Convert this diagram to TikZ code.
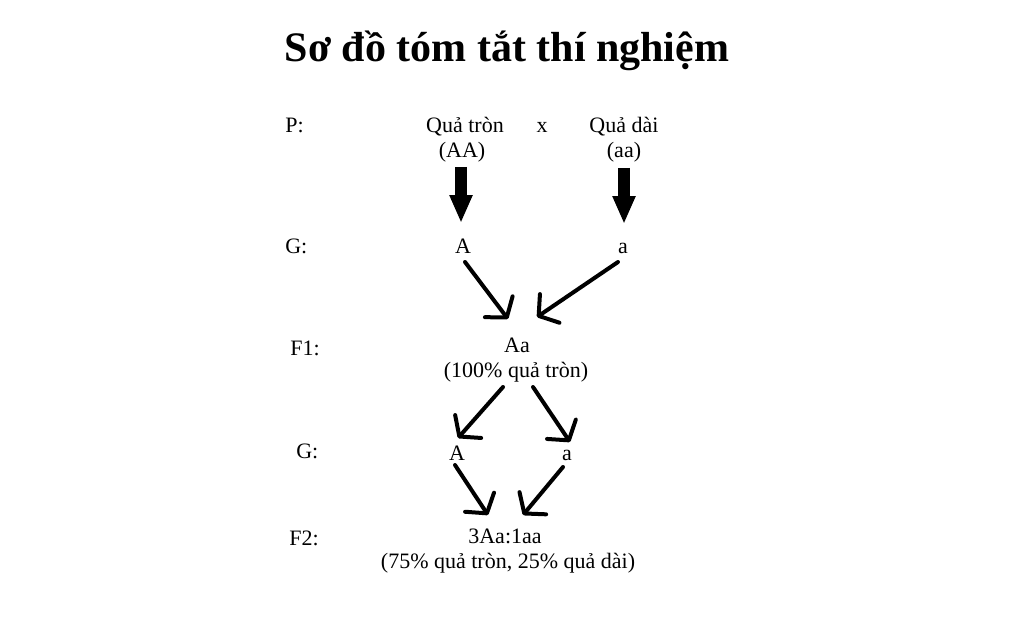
\documentclass[tikz,border=0pt]{standalone}
\usepackage{fontspec}
\setmainfont{Liberation Serif}
\usetikzlibrary{arrows.meta,calc}

\tikzset{
  txt/.style={inner sep=0pt, anchor=base, font=\fontsize{16.5}{18}\selectfont},
  lbl/.style={txt, anchor=base west},
  bigarrow/.style={line width=9pt, -{Triangle[length=21pt,width=16pt]}},
  handarrow/.style={line width=3pt, line cap=round, -{Straight Barb[length=10pt,width=26pt,line cap=round,round]}}
}

\begin{document}
\begin{tikzpicture}[x=0.75pt,y=-0.75pt]
    \useasboundingbox (0,0) rectangle (1024,638);
    \node [inner sep=0pt, anchor=base, font=\fontsize{31.5}{36}\selectfont\bfseries] (title) at (507,62) {Sơ đồ tóm tắt thí nghiệm};

    % P
    \node [lbl] (lP) at (285,133) {P:};
    \node [txt] (pR) at (465,133) {Quả tròn};
    \node [txt] (pRg) at (462,157) {(AA)};
    \node [txt] (cross) at (542,133) {x};
    \node [txt] (pD) at (624,133) {Quả dài};
    \node [txt] (pDg) at (624,157) {(aa)};

    % G
    \node [lbl] (lG1) at (285,253) {G:};
    \node [txt] (gA1) at (463,253) {A};
    \node [txt] (ga1) at (623,253) {a};

    % F1
    \node [lbl] (lF1) at (290,355) {F1:};
    \node [txt] (f1) at (517,352) {Aa};
    \node [txt] (f1p) at (516,377) {(100\% quả tròn)};

    % G
    \node [lbl] (lG2) at (296,458) {G:};
    \node [txt] (gA2) at (457,460) {A};
    \node [txt] (ga2) at (567,460) {a};

    % F2
    \node [lbl] (lF2) at (289,545) {F2:};
    \node [txt] (f2) at (505,543) {3Aa:1aa};
    \node [txt] (f2p) at (508,568) {(75\% quả tròn, 25\% quả dài)};

    \draw [bigarrow] ($(pRg.base)+(-1,10)$) -- ($(gA1.base)+(-2,-30)$);
    \draw [bigarrow] ($(pDg.base)+(0,11)$) -- ($(ga1.base)+(1,-29)$);

    \draw [handarrow] ($(gA1.base)+(2,9)$) -- ($(f1.base)+(-9,-33)$);
    \draw [handarrow] ($(ga1.base)+(-5,9)$) -- ($(f1.base)+(20,-35)$);
    \draw [handarrow] ($(f1p.base)+(-13,10)$) -- ($(gA2.base)+(1,-22)$);
    \draw [handarrow] ($(f1p.base)+(17,10)$) -- ($(ga2.base)+(3,-18)$);
    \draw [handarrow] ($(gA2.base)+(-2,5)$) -- ($(f2.base)+(-17,-28)$);
    \draw [handarrow] ($(ga2.base)+(-4,7)$) -- ($(f2.base)+(18,-28)$);
  \end{tikzpicture}
\end{document}
